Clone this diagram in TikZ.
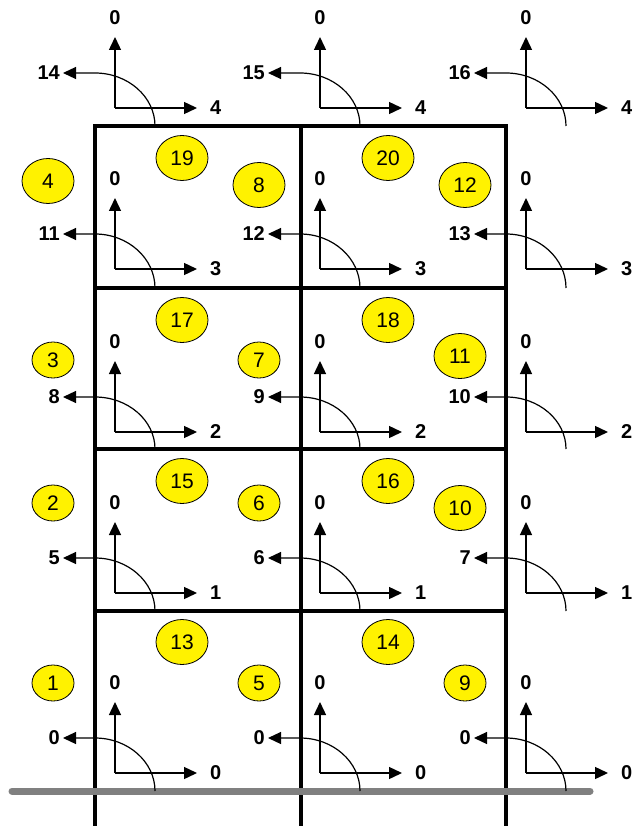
\documentclass[tikz,border=0pt]{standalone}
\usepackage{fontspec}
\setmainfont{Liberation Sans}
\usetikzlibrary{arrows.meta,shapes.geometric}
\begin{document}
\begin{tikzpicture}[x=1pt,y=-1pt,
  axis/.style={line width=1.4pt,-{Triangle[length=13pt,width=12pt]}},
  turn/.style={line width=1.2pt,-{Triangle[length=13pt,width=12pt]}},
  lbl/.style={font=\fontsize{20}{20}\selectfont\bfseries,inner sep=0pt},
  wall/.style={line width=4pt,line cap=rect},
  ground/.style={line width=7pt,draw={rgb,255:red,128;green,128;blue,128},line cap=round},
  bigc/.style={ellipse,draw,line width=0.8pt,fill=yellow,minimum width=52pt,minimum height=45pt,inner sep=0pt,font=\fontsize{21}{21}\selectfont},
  smallc/.style={ellipse,draw,line width=0.8pt,fill=yellow,minimum width=42pt,minimum height=36pt,inner sep=0pt,font=\fontsize{21}{21}\selectfont}]
\useasboundingbox (0,0) rectangle (636,826);
% walls
\draw[wall] (95,126) -- (95,830);
\draw[wall] (300.5,126) -- (300.5,830);
\draw[wall] (505.5,126) -- (505.5,830);
\foreach \y in {126,288,449,611} {\draw[wall] (95,\y) -- (505.5,\y);}
% ground
\draw[ground] (12,791) -- (590,791);
% glyphs
\foreach \ox/\oy/\sy/\r/\l [count=\i] in {
  115/773/791/0/0, 320/773/791/0/0, 526/773/791/0/0,
  115/593/611/1/5, 320/593/611/1/6, 526/593/611/1/7,
  115/432/449/2/8, 320/432/449/2/9, 526/432/449/2/10,
  115/269/288/3/11, 320/269/288/3/12, 526/269/288/3/13,
  115/108/126/4/14, 320/108/126/4/15, 526/108/126/4/16} {
  \coordinate (o\i) at (\ox,\oy);
  \coordinate (ut\i) at (\ox,\oy-71);
  \coordinate (rt\i) at (\ox+82,\oy);
  \coordinate (cs\i) at (\ox+40,\sy);
  \coordinate (ce\i) at (\ox-20,\oy-35);
  \coordinate (ct\i) at (\ox-52,\oy-35);
  \node[lbl] (u\i) at (\ox,\oy-90) {0};
  \node[lbl,anchor=west] (r\i) at (\ox+95,\oy) {\r};
  \node[lbl,anchor=east] (l\i) at (\ox-55,\oy-35) {\l};
  \draw[axis] (o\i) -- (ut\i);
  \draw[axis] (o\i) -- (rt\i);
  \draw[turn] (cs\i) .. controls (\ox+40,{\sy-0.55*(\sy-\oy+35)}) and (\ox+13,\oy-35) .. (ce\i) -- (ct\i);
}
% circles
\foreach \x/\y/\t in {182/158/19, 388/158/20, 48/181/4, 259/185/8, 465/185/12,
  182/320/17, 388/320/18, 460/356/11, 182/481/15, 388/481/16, 460/508/10,
  182/642/13, 388/642/14} {
  \node[bigc] (c\t) at (\x,\y) {\t};
}
\foreach \x/\y/\t in {53/360/3, 259/360/7, 53/503/2, 259/503/6, 53/683/1, 259/683/5, 465/683/9} {
  \node[smallc] (c\t) at (\x,\y) {\t};
}
\end{tikzpicture}
\end{document}
